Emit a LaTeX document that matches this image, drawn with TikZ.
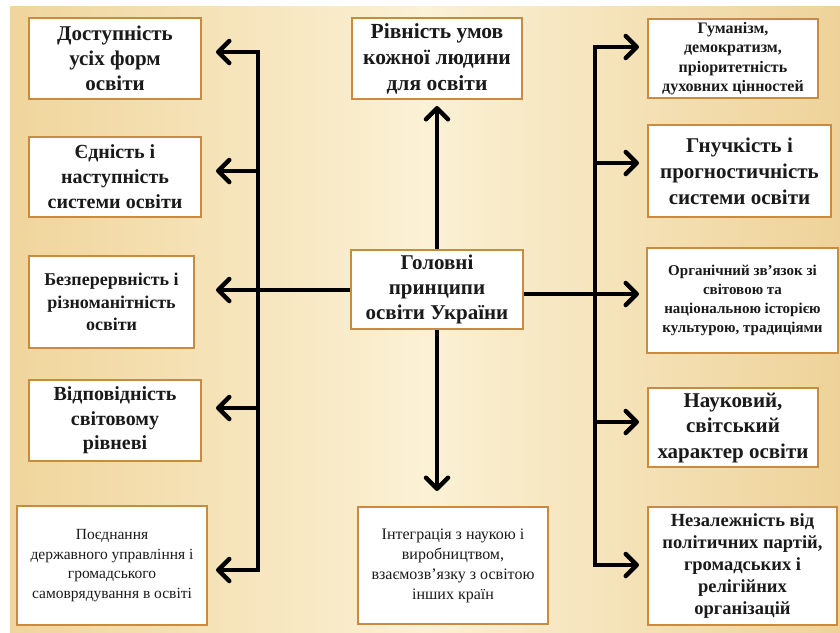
\documentclass[tikz,border=0pt]{standalone}
\usepackage{fontspec}
\setmainfont{Liberation Serif}[BoldFont={Liberation Serif Bold}, ItalicFont={Liberation Serif Italic}]
\usetikzlibrary{arrows.meta}
\definecolor{boxedge}{HTML}{C98B3F}
\definecolor{txt}{HTML}{1A1A1A}
\definecolor{bgL}{HTML}{F0D59C}
\definecolor{bgM}{HTML}{FBF1D5}
\definecolor{bgR}{HTML}{EED299}
\tikzset{
  box/.style={draw=boxedge, line width=2pt, fill=white, align=center, inner sep=0pt, text=txt},
  wire/.style={line width=4.5pt, draw=black},
  arr/.style={wire, -{Straight Barb[length=11pt,width=22pt,round]}},
  fb/.style 2 args={font=\bfseries\fontsize{#1}{#2}\selectfont},
  fr/.style 2 args={font=\fontsize{#1}{#2}\selectfont},
}
\begin{document}
\begin{tikzpicture}[x=1pt,y=-1pt]
\useasboundingbox (0,0) rectangle (840,632);
\fill[white] (0,0) rectangle (840,632);
\shade[left color=bgL, right color=bgR, middle color=bgM] (10,6) rectangle (840,632);

% left column
\node[box, fb={21}{25}, minimum width=172pt, minimum height=81pt] (L1) at (115,58.5) {Доступність\\усіх форм\\освіти};
\node[box, fb={20}{25}, minimum width=172pt, minimum height=80pt] (L2) at (115,177) {Єдність і\\наступність\\системи освіти};
\node[box, fb={18}{22.5}, minimum width=165pt, minimum height=92pt] (L3) at (111.5,302) {Безперервність і\\різноманітність\\освіти};
\node[box, fb={20}{24.5}, minimum width=172pt, minimum height=81pt] (L4) at (115,420.5) {Відповідність\\світовому\\рівневі};
\node[box, fr={15.5}{19.5}, minimum width=190pt, minimum height=119pt] (L5) at (112,565.5) {Поєднання\\державного управління і\\громадського\\самоврядування в освіті};

% centre column
\node[box, fb={21.5}{26}, minimum width=170pt, minimum height=81pt] (CT) at (437,58.5) {Рівність умов\\кожної людини\\для освіти};
\node[box, fb={21}{25}, minimum width=172pt, minimum height=79pt] (C) at (437,289.5) {Головні\\принципи\\освіти України};
\node[box, fr={16}{20}, minimum width=190pt, minimum height=117pt] (CB) at (453,565.5) {Інтеграція з наукою і\\виробництвом,\\взаємозв'язку з освітою\\інших країн};

% right column
\node[box, fb={16}{19.5}, minimum width=170pt, minimum height=79pt] (R1) at (733,58.5) {Гуманізм,\\демократизм,\\пріоритетність\\духовних цінностей};
\node[box, fb={21}{26}, minimum width=183pt, minimum height=92pt] (R2) at (739.5,171) {Гнучкість і\\прогностичність\\системи освіти};
\node[box, fb={15}{19}, minimum width=191pt, minimum height=105pt] (R3) at (742.5,300.5) {Органічний зв'язок зі\\світовою та\\національною історією\\культурою, традиціями};
\node[box, fb={21}{25.5}, minimum width=170pt, minimum height=79pt] (R4) at (733,427.5) {Науковий,\\світський\\характер освіти};
\node[box, fb={18.5}{22}, minimum width=189pt, minimum height=118pt] (R5) at (742.5,566) {Незалежність від\\політичних партій,\\громадських і\\релігійних\\організацій};

% bus coordinates
\coordinate (bl1) at (258,52);
\coordinate (bl2) at (258,171);
\coordinate (bl3) at (258,290);
\coordinate (bl4) at (258,408);
\coordinate (bl5) at (258,570);
\coordinate (br1) at (595,47);
\coordinate (br2) at (595,163);
\coordinate (br3) at (595,294);
\coordinate (br4) at (595,422);
\coordinate (br5) at (595,565);

% left bus
\draw[arr, shorten >=14pt] (bl3) -- (bl1) -- (L1.east |- bl1);
\draw[arr, shorten >=8pt] (bl3) -- (bl5) -- (L5.east |- bl5);
\draw[arr, shorten >=14pt] (bl2) -- (L2.east |- bl2);
\draw[arr, shorten >=14pt] (bl4) -- (L4.east |- bl4);
\draw[arr, shorten >=21pt] (C.west |- bl3) -- (L3.east |- bl3);

% right bus
\draw[arr, shorten >=8pt] (br3) -- (br1) -- (R1.west |- br1);
\draw[arr, shorten >=8pt] (br3) -- (br5) -- (R5.west |- br5);
\draw[arr, shorten >=8pt] (br2) -- (R2.west |- br2);
\draw[arr, shorten >=8pt] (br4) -- (R4.west |- br4);
\draw[arr, shorten >=7pt] (C.east |- br3) -- (R3.west |- br3);

% vertical arrows
\draw[arr, shorten >=6pt] (C.north) -- (CT.south);
\draw[arr, shorten >=15pt] (C.south) -- (CB.north -| C.south);
\end{tikzpicture}
\end{document}
